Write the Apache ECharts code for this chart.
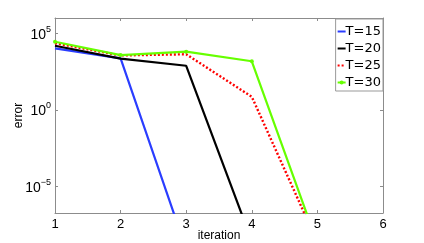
<!DOCTYPE html>
<html><head><meta charset="utf-8">
<script src="https://cdn.jsdelivr.net/npm/echarts@6/dist/echarts.min.js"></script>
<style>html,body{margin:0;padding:0;background:#fff}#c{width:424px;height:243px}</style>
</head><body><div id="c"></div>
<script>
var iterations = [1, 2, 3, 4, 5];
var seriesNames = ['T=15', 'T=20', 'T=25', 'T=30'];
var errT15 = [1.05e4, 2.3e3, 8e-10];
var errT20 = [1.55e4, 2.25e3, 7.6e2, 2.8e-9];
var errT25 = [2.25e4, 3.6e3, 4.3e3, 7.2, 2.3e-9];
var errT30 = [2.8e4, 3.8e3, 6.3e3, 1.5e3, 2e-9];
var yTickExps = [-5, 0, 5];
var xTicks = [1, 2, 3, 4, 5, 6];

function pts(arr){ return arr.map(function(v,i){ return [iterations[i], Math.log10(v)]; }); }
var axisGray = '#8c8c8c';
var FF = 'Liberation Sans, Arial, Helvetica, sans-serif';
var chart = echarts.init(document.getElementById('c'), null, {renderer:'canvas'});
var yLabel = {
  customValues: yTickExps,
  formatter: function(v){ var e = Math.round(v); return '{b|10}{s|' + (e<0?'\u2212'+(-e):e) + '}'; },
  rich: { b:{fontSize:14, color:'#000', fontFamily:FF, padding:[3,0,0,0]}, s:{fontSize:9, color:'#000', verticalAlign:'top', padding:[0,0,6,0], fontFamily:FF} },
  margin: 4
};
var hidden = {color:'rgba(0,0,0,0)', borderWidth:0};
chart.setOption({
  animation:false,
  grid:{left:55, right:41, top:18, bottom:30, outerBoundsMode:'none', containLabel:false},
  legend:{
    data:[
      {name:seriesNames[0], itemStyle:hidden},
      {name:seriesNames[1], itemStyle:hidden},
      {name:seriesNames[2], itemStyle:hidden},
      {name:seriesNames[3]}
    ],
    orient:'vertical', right:41, top:19,
    backgroundColor:'#fff', borderColor:'#999', borderWidth:1, padding:[6,2,2,1],
    itemWidth:8, itemHeight:5, itemGap:4,
    textStyle:{fontSize:13, lineHeight:13, color:'#000', fontFamily:'DejaVu Sans, sans-serif', padding:[0,0,0,-5]}
  },
  xAxis:[{
    type:'value', min:1, max:6, interval:1, position:'bottom',
    name:'iteration', nameLocation:'middle', nameGap:17, nameMoveOverlap:false,
    nameTextStyle:{fontSize:12, color:'#000', fontFamily:FF},
    axisLine:{onZero:false, lineStyle:{color:axisGray}}, axisTick:{inside:true, length:3, lineStyle:{color:axisGray}},
    axisLabel:{fontSize:13, color:'#000', margin:5, fontFamily:FF},
    splitLine:{show:false}
  },{
    type:'value', min:1, max:6, interval:1, position:'top',
    axisLine:{onZero:false, lineStyle:{color:axisGray}}, axisTick:{inside:true, length:3, lineStyle:{color:axisGray}},
    axisLabel:{show:false}, splitLine:{show:false}
  }],
  yAxis:[{
    type:'value', min:-6.73, max:6, position:'left',
    name:'error', nameLocation:'middle', nameGap:30, nameRotate:90, nameMoveOverlap:false,
    nameTextStyle:{fontSize:12, color:'#000', fontFamily:FF},
    axisLine:{show:true, onZero:false, lineStyle:{color:axisGray}},
    axisTick:{show:true, inside:true, length:3, customValues:yTickExps, lineStyle:{color:axisGray}},
    axisLabel:yLabel, splitLine:{show:false}
  },{
    type:'value', min:-6.73, max:6, position:'right',
    axisLine:{show:true, onZero:false, lineStyle:{color:axisGray}},
    axisTick:{show:true, inside:true, length:3, customValues:yTickExps, lineStyle:{color:axisGray}},
    axisLabel:{show:false}, splitLine:{show:false}
  }],
  series:[
    {name:seriesNames[0], type:'line', data:pts(errT15), symbol:'none', color:'#2a3dff', lineStyle:{width:2.2, color:'#2a3dff'}},
    {name:seriesNames[1], type:'line', data:pts(errT20), symbol:'none', color:'#000', lineStyle:{width:2.2, color:'#000'}},
    {name:seriesNames[2], type:'line', data:pts(errT25), symbol:'none', color:'#ff0000', lineStyle:{width:2.4, color:'#ff0000', type:[2,2]}},
    {name:seriesNames[3], type:'line', data:pts(errT30), symbol:'circle', symbolSize:4, color:'#66ff00', itemStyle:{color:'#66ff00'}, lineStyle:{width:2.2, color:'#66ff00'}}
  ]
});
</script></body></html>
